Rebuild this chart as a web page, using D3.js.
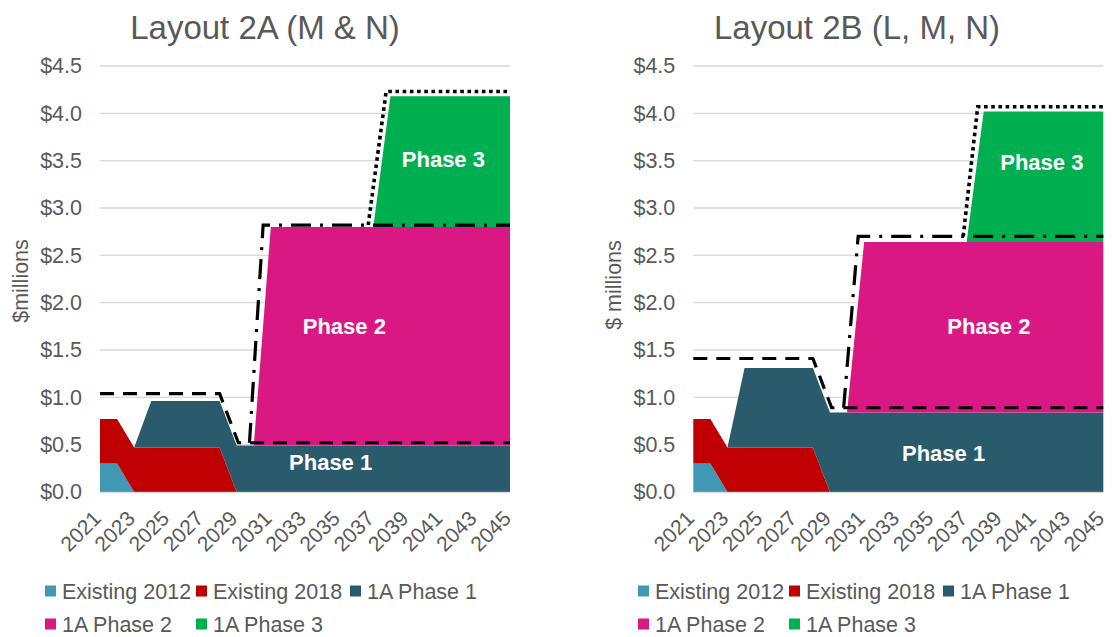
<!DOCTYPE html>
<html><head><meta charset="utf-8">
<script src="https://cdn.jsdelivr.net/npm/d3@7"></script>
<style>html,body{margin:0;padding:0;background:#fff;}svg{display:block;font-family:"Liberation Sans",Arial,sans-serif;}</style>
</head><body>
<svg id="c" width="1112" height="637"></svg>
<script>
// ---------- data ----------
const years = [2021,2022,2023,2024,2025,2026,2027,2028,2029,2030,2031,2032,2033,2034,2035,2036,2037,2038,2039,2040,2041,2042,2043,2044,2045];
const tickYears = [2021,2023,2025,2027,2029,2031,2033,2035,2037,2039,2041,2043,2045];
const yTicks = [0,0.5,1,1.5,2,2.5,3,3.5,4,4.5];
const seriesNames = ["Existing 2012","Existing 2018","1A Phase 1","1A Phase 2","1A Phase 3"];
const seriesColors = ["#4198B5","#C00000","#2A5B6C","#DA1884","#00B050"];

// Layout 2A (M & N)
const existing2012A = [0.3,0.3,0,0,0,0,0,0,0,0,0,0,0,0,0,0,0,0,0,0,0,0,0,0,0];
const existing2018A = [0.47,0.47,0.47,0.47,0.47,0.47,0.47,0.47,0,0,0,0,0,0,0,0,0,0,0,0,0,0,0,0,0];
const phase1A = [0,0,0,0.49,0.49,0.49,0.49,0.49,0.49,0.49,0.49,0.49,0.49,0.49,0.49,0.49,0.49,0.49,0.49,0.49,0.49,0.49,0.49,0.49,0.49];
const phase2A = [0,0,0,0,0,0,0,0,0,0,2.31,2.31,2.31,2.31,2.31,2.31,2.31,2.31,2.31,2.31,2.31,2.31,2.31,2.31,2.31];
const phase3A = [0,0,0,0,0,0,0,0,0,0,0,0,0,0,0,0,0,1.38,1.38,1.38,1.38,1.38,1.38,1.38,1.38];
const dashedYearsA = [2021,2028,2029.1,2045];
const dashedValsA  = [1.04,1.04,0.52,0.52];
const dashDotYearsA = [2029.75,2030.55,2045];
const dashDotValsA  = [0.52,2.82,2.82];
const dottedYearsA = [2036.7,2037.75,2045];
const dottedValsA  = [2.82,4.23,4.23];

// Layout 2B (L, M, N)
const existing2012B = [0.3,0.3,0,0,0,0,0,0,0,0,0,0,0,0,0,0,0,0,0,0,0,0,0,0,0];
const existing2018B = [0.47,0.47,0.47,0.47,0.47,0.47,0.47,0.47,0,0,0,0,0,0,0,0,0,0,0,0,0,0,0,0,0];
const phase1B = [0,0,0,0.84,0.84,0.84,0.84,0.84,0.84,0.84,0.84,0.84,0.84,0.84,0.84,0.84,0.84,0.84,0.84,0.84,0.84,0.84,0.84,0.84,0.84];
const phase2B = [0,0,0,0,0,0,0,0,0,0,1.8,1.8,1.8,1.8,1.8,1.8,1.8,1.8,1.8,1.8,1.8,1.8,1.8,1.8,1.8];
const phase3B = [0,0,0,0,0,0,0,0,0,0,0,0,0,0,0,0,0,1.38,1.38,1.38,1.38,1.38,1.38,1.38,1.38];
const dashedYearsB = [2021,2028,2029.1,2045];
const dashedValsB  = [1.41,1.41,0.89,0.89];
const dashDotYearsB = [2029.8,2030.65,2045];
const dashDotValsB  = [0.89,2.70,2.70];
const dottedYearsB = [2036.8,2037.65,2045];
const dottedValsB  = [2.70,4.07,4.07];

const charts = [
  {title:"Layout 2A (M & N)", yTitle:"$millions", left:100, titleX:265, yTitleX:20, yTitleY:281,
   series:[existing2012A,existing2018A,phase1A,phase2A,phase3A],
   lines:[[dashedYearsA,dashedValsA],[dashDotYearsA,dashDotValsA],[dottedYearsA,dottedValsA]],
   labels:[["Phase 1",2034.5,0.31],["Phase 2",2035.3,1.75],["Phase 3",2041.1,3.51]], legendX:45},
  {title:"Layout 2B (L, M, N)", yTitle:"$ millions", left:693.3, titleX:857, yTitleX:613, yTitleY:285,
   series:[existing2012B,existing2018B,phase1B,phase2B,phase3B],
   lines:[[dashedYearsB,dashedValsB],[dashDotYearsB,dashDotValsB],[dottedYearsB,dottedValsB]],
   labels:[["Phase 1",2035.65,0.41],["Phase 2",2038.3,1.75],["Phase 3",2041.4,3.48]], legendX:638}
];
const lineStyles = [
  {w:3.2, dash:"14,9"},
  {w:3.2, dash:"20,9,3,9"},
  {w:3.6, dash:"3.6,3.6"}
];

const svg = d3.select("#c");
const textColor = "#595959";
const plotTop = 66, plotBottom = 492, plotW = 410;
const fs = 21.5;

charts.forEach(ch => {
  const g = svg.append("g");
  const x = d3.scaleLinear().domain([2021,2045]).range([ch.left, ch.left+plotW]);
  const y = d3.scaleLinear().domain([0,4.5]).range([plotBottom, plotTop]);

  g.append("text").attr("x", ch.titleX).attr("y", 39).attr("text-anchor","middle")
    .attr("font-size", 33).attr("fill", textColor).text(ch.title);

  g.append("g").selectAll("line").data(yTicks).join("line")
    .attr("x1", ch.left).attr("x2", ch.left+plotW)
    .attr("y1", d=>y(d)).attr("y2", d=>y(d))
    .attr("stroke","#d9d9d9").attr("stroke-width",1.3);

  const yAxis = d3.axisLeft(y).tickValues(yTicks).tickSize(0).tickPadding(18)
    .tickFormat(d => "$" + d3.format(".1f")(d));
  const ya = g.append("g").attr("transform",`translate(${ch.left},0)`).call(yAxis);
  ya.select(".domain").remove();
  ya.selectAll("text").attr("font-size",fs).attr("fill",textColor)
    .attr("font-family",'"Liberation Sans",Arial,sans-serif');

  g.append("text").attr("transform",`translate(${ch.yTitleX},${ch.yTitleY}) rotate(-90)`)
    .attr("text-anchor","middle").attr("dy","0.35em").attr("font-size",fs).attr("fill",textColor).text(ch.yTitle);

  const rows = years.map((yr,i) => {
    const o = {year: yr};
    seriesNames.forEach((n,k) => o[n] = ch.series[k][i]);
    return o;
  });
  const stacked = d3.stack().keys(seriesNames)(rows);
  const area = d3.area().x(d=>x(d.data.year)).y0(d=>y(d[0])).y1(d=>y(d[1]));
  g.append("g").selectAll("path").data(stacked).join("path")
    .attr("d", area).attr("fill",(d,i)=>seriesColors[i]);

  const line = d3.line().x(d=>x(d[0])).y(d=>y(d[1]));
  ch.lines.forEach((ln,i) => {
    const pts = ln[0].map((yr,j)=>[yr, ln[1][j]]);
    g.append("path").attr("d", line(pts)).attr("fill","none").attr("stroke","#000")
      .attr("stroke-width", lineStyles[i].w).attr("stroke-dasharray", lineStyles[i].dash);
  });

  g.append("g").selectAll("text").data(ch.labels).join("text")
    .attr("x", d=>x(d[1])).attr("y", d=>y(d[2])).attr("dy","0.35em")
    .attr("text-anchor","middle").attr("font-size",22).attr("font-weight","bold")
    .attr("fill","#fff").text(d=>d[0]);

  g.append("line").attr("x1",ch.left).attr("x2",ch.left+plotW).attr("y1",plotBottom+0.5).attr("y2",plotBottom+0.5)
    .attr("stroke","#d9d9d9").attr("stroke-width",1.3).attr("opacity",0.7);

  const xAxis = d3.axisBottom(x).tickValues(tickYears).tickSize(0).tickFormat(d3.format("d"));
  const xa = g.append("g").attr("transform",`translate(0,${plotBottom})`).call(xAxis);
  xa.select(".domain").remove();
  xa.selectAll("text").attr("font-size",21).attr("fill",textColor)
    .attr("font-family",'"Liberation Sans",Arial,sans-serif')
    .attr("text-anchor","end").attr("y",0).attr("dy","0.72em")
    .attr("transform","translate(-9,17) rotate(-45)");

  const legendItems = [[0,0],[1,1],[2,2],[3,0],[4,1]];
  const colX = [0,151,305];
  const rowY = [591,624];
  const lg = g.append("g");
  legendItems.forEach(([k,col],idx) => {
    const row = idx < 3 ? 0 : 1;
    const lx = ch.legendX + colX[col];
    lg.append("rect").attr("x",lx).attr("y",rowY[row]-5.5).attr("width",11).attr("height",11).attr("fill",seriesColors[k]);
    lg.append("text").attr("x",lx+17).attr("y",rowY[row]).attr("dy","0.35em")
      .attr("font-size",fs).attr("fill",textColor).text(seriesNames[k]);
  });
});
</script>
</body></html>
